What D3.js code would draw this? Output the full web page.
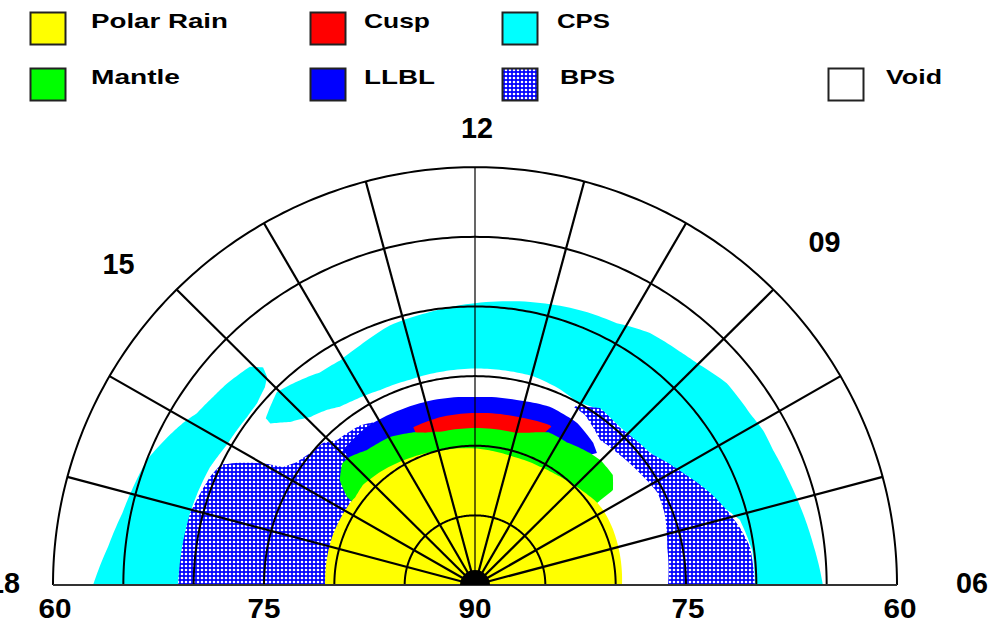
<!DOCTYPE html>
<html>
<head>
<meta charset="utf-8">
<script src="https://cdn.jsdelivr.net/npm/d3@7"></script>
<style>
  html, body { margin: 0; padding: 0; background: #ffffff; }
  svg { display: block; }
</style>
</head>
<body>
<svg id="chart" width="995" height="623"></svg>
<script>
// ---- Grid definition: magnetic local time (hours) and magnetic latitude (deg) ----
const ringLats = [85, 80, 75, 70, 65, 60];
const meridianHours = [6, 7, 8, 9, 10, 11, 12, 13, 14, 15, 16, 17, 18];
const hourLabels = ["06", "09", "12", "15", "18"];
const hourLabelMlt = [6, 9, 12, 15, 18];
const latLabels = ["60", "75", "90", "75", "60"];
const latLabelLat = [60, 75, 90, 75, 60];
const latLabelMlt = [18, 18, 12, 6, 6];

// ---- Legend ----
const legendNames = ["Polar Rain", "Mantle", "Cusp", "LLBL", "CPS", "BPS", "Void"];
const legendFills = ["#ffff00", "#00ff00", "#ff0000", "#0000ff", "#00ffff", "url(#bpsFill)", "#ffffff"];

// ---- Precipitation regions, boundary points as [MLT, latitude] ----
// Central plasma sheet, dusk-side band
const cpsDusk = [
  [18, 62.85], [17.6, 63.77], [17.23, 64.4], [16.93, 64.7], [16.6, 65.0], [16.27, 65.7],
  [16.05, 66.2], [15.87, 66.7], [15.6, 67.0], [15.37, 67.2], [15.04, 67.6], [14.93, 68.3],
  [14.98, 69.0], [15.1, 69.4], [15.33, 69.75], [15.55, 69.8], [15.78, 69.75], [16.0, 69.7],
  [16.17, 69.56], [16.39, 69.35], [16.76, 69.2], [17.05, 69.1], [17.5, 69.07], [18, 68.9]
];
// Central plasma sheet, dayside and dawn band
const cpsDay = [
  [15.41, 70.9], [15.03, 70.24], [14.68, 70.74], [14.39, 71.17], [14.05, 71.24], [13.69, 70.95],
  [13.2, 70.4], [12.62, 70.14], [12, 69.76], [11.27, 69.3], [10.62, 68.9], [10.12, 68.67],
  [9.7, 68.04], [9.27, 67.8], [9.02, 67.58], [8.6, 66.97], [8.15, 66.9], [7.9, 66.7],
  [7.64, 66.7], [7.29, 66.5], [6.91, 66.2], [6.48, 65.8], [6, 65.27],
  [6, 70.1], [6.47, 70.13], [6.93, 70.6], [7.17, 71.5], [7.58, 72.53], [8.12, 73.94],
  [8.65, 74.5], [9.18, 74.68], [9.65, 74.6], [10.07, 75.0], [10.45, 74.7], [10.97, 74.45],
  [11.47, 74.45], [12, 74.45], [12.62, 74.5], [13.16, 74.55], [13.71, 74.46], [14.18, 74.2],
  [14.46, 74.0], [14.66, 73.6], [14.95, 73.18], [15.22, 72.4], [15.43, 71.4]
];
// Boundary plasma sheet, dusk side
const bpsDusk = [
  [18, 68.9], [17.5, 69.0], [17.05, 69.1], [16.75, 69.4], [16.5, 69.63], [16.3, 69.96],
  [16.17, 70.95], [15.99, 72.6], [15.88, 73.94], [15.67, 74.58], [15.4, 74.93], [15.1, 75.15],
  [14.9, 75.7], [14.36, 75.93], [13.9, 76.57], [13.9, 90], [18, 90]
];
// Boundary plasma sheet, dawn side
const bpsDawn = [
  [6, 70.1], [6.53, 70.26], [6.83, 70.74], [7.11, 71.31], [7.44, 72.02], [7.9, 73.16],
  [8.48, 74.36], [9.17, 74.72], [9.67, 74.5], [10.1, 75.4],
  [9.83, 75.5], [9.3, 76.31], [8.8, 76.1], [8.29, 75.79], [7.8, 75.43], [7.4, 75.57],
  [6.75, 76.07], [6, 76.28]
];
// Low-latitude boundary layer
const llbl = [
  [9.17, 77.16], [9.37, 76.78], [9.87, 76.28], [10.5, 76.14], [11.16, 76.39], [12, 76.5],
  [12.84, 76.39], [13.53, 76.35], [14.27, 76.28], [14.93, 76.5], [14.97, 77.2], [12, 90]
];
// Cusp
const cusp = [
  [10.3, 77.4], [10.34, 77.35], [11.07, 77.56], [12, 77.65], [12.78, 77.7], [13.41, 77.85],
  [13.41, 78.24], [12, 90]
];
// Mantle
const mantle = [
  [8.28, 79.51], [8.32, 78.06], [8.59, 77.42], [9.0, 77.35], [9.28, 77.49], [9.83, 77.85],
  [10.3, 77.85], [10.7, 78.4], [11, 78.7], [12, 78.73], [12.8, 78.74], [13.2, 78.5],
  [13.45, 78.2], [13.97, 77.78], [14.57, 77.63], [14.93, 77.2], [15.15, 77.14], [15.46, 77.78],
  [15.68, 78.91], [15.7, 79.4], [12, 90]
];
// Polar rain
const polarRain = [
  [6, 79.55], [7, 79.45], [7.5, 79.41], [8, 79.41], [8.3, 79.5], [8.6, 79.7], [9.07, 79.98],
  [9.6, 80.2], [10.1, 80.33], [10.9, 80.4], [11.5, 80.3], [12, 80.19], [12.9, 80.05],
  [13.8, 79.77], [14.56, 79.48], [15.2, 79.27], [15.56, 79.41], [15.76, 79.34], [16.73, 79.27],
  [18, 79.34], [18, 90], [6, 90]
];

// ---- Layout ----
const cx = 475, cy = 585, outerR = 422, ky = 0.99;
const svg = d3.select("#chart");

const rScale = d3.scaleLinear().domain([90, 60]).range([0, outerR]);
const aScale = d3.scaleLinear().domain([6, 18]).range([Math.PI / 2, -Math.PI / 2]);
function project(mlt, lat) {
  const a = aScale(mlt), rr = rScale(lat);
  return [cx + rr * Math.sin(a), cy - rr * Math.cos(a) * ky];
}

// Walk each boundary segment in polar space so edges follow the grid curvature
function polarPath(points, closed) {
  const out = [];
  const n = points.length;
  const segs = closed ? n : n - 1;
  for (let i = 0; i < segs; i++) {
    const p = points[i], q = points[(i + 1) % n];
    const steps = 10;
    for (let s = 0; s < steps; s++) {
      const t = s / steps;
      out.push(project(p[0] + (q[0] - p[0]) * t, p[1] + (q[1] - p[1]) * t));
    }
  }
  if (!closed) out.push(project(points[n - 1][0], points[n - 1][1]));
  return out;
}
const areaLine = d3.line().curve(d3.curveLinearClosed);
const openLine = d3.line();

// Dot-screen fill for the boundary plasma sheet
const defs = svg.append("defs");
const pat = defs.append("pattern").attr("id", "bpsFill")
  .attr("patternUnits", "userSpaceOnUse").attr("width", 4).attr("height", 4);
pat.append("rect").attr("width", 4).attr("height", 4).attr("fill", "#0000ff");
pat.append("circle").attr("cx", 2).attr("cy", 2).attr("r", 1.3).attr("fill", "#ffffff");

// ---- Regions ----
const regions = [
  { pts: cpsDusk, fill: "#00ffff" },
  { pts: cpsDay, fill: "#00ffff" },
  { pts: bpsDusk, fill: "url(#bpsFill)" },
  { pts: bpsDawn, fill: "url(#bpsFill)" },
  { pts: llbl, fill: "#0000ff" },
  { pts: cusp, fill: "#ff0000" },
  { pts: mantle, fill: "#00ff00" },
  { pts: polarRain, fill: "#ffff00" }
];
svg.append("g").attr("class", "regions")
  .selectAll("path").data(regions).join("path")
  .attr("d", d => areaLine(polarPath(d.pts, true)))
  .attr("fill", d => d.fill)
  .attr("stroke", "none");

// ---- Grid ----
const grid = svg.append("g").attr("class", "grid").attr("fill", "none").attr("stroke", "#000");
const arcMlts = d3.range(6, 18.001, 0.05);
grid.selectAll("path.ring").data(ringLats).join("path")
  .attr("class", "ring")
  .attr("d", lat => openLine(arcMlts.map(m => project(m, lat))))
  .attr("stroke-width", 2);

grid.selectAll("line.meridian").data(meridianHours.filter(h => h !== 6 && h !== 18)).join("line")
  .attr("class", "meridian")
  .attr("x1", h => project(h, 90)[0]).attr("y1", h => project(h, 90)[1])
  .attr("x2", h => project(h, 60)[0]).attr("y2", h => project(h, 60)[1])
  .attr("stroke-width", h => h === 12 ? 1.2 : 2.2);

// Baseline along the 06-18 meridian
grid.append("line")
  .attr("x1", project(18, 60)[0]).attr("y1", cy)
  .attr("x2", project(6, 60)[0]).attr("y2", cy)
  .attr("stroke", "#333").attr("stroke-width", 2);

// Pole marker
svg.append("path")
  .attr("transform", `translate(${cx},${cy})`)
  .attr("d", d3.arc()({ innerRadius: 0, outerRadius: 15, startAngle: -Math.PI / 2, endAngle: Math.PI / 2 }))
  .attr("fill", "#000");

// ---- Axis labels ----
const labelFont = "'Liberation Sans', Arial, sans-serif";
const hourLabelR = 480;
const hourNudge = [[17, -2], [10, -7], [2, 18], [-17, 15], [9, -2]];
svg.append("g").selectAll("text").data(hourLabels).join("text")
  .attr("x", (d, i) => { const a = aScale(hourLabelMlt[i]); return cx + hourLabelR * Math.sin(a) + hourNudge[i][0]; })
  .attr("y", (d, i) => { const a = aScale(hourLabelMlt[i]); return cy - hourLabelR * Math.cos(a) * ky + hourNudge[i][1]; })
  .attr("dy", "0.36em")
  .attr("text-anchor", "middle")
  .attr("font-family", labelFont).attr("font-size", 29).attr("font-weight", "bold")
  .attr("textLength", 32).attr("lengthAdjust", "spacingAndGlyphs")
  .attr("fill", "#000")
  .text(d => d);

svg.append("g").selectAll("text").data(latLabels).join("text")
  .attr("x", (d, i) => project(latLabelMlt[i], latLabelLat[i])[0] + (i === 3 ? 2 : i === 4 ? 3 : i === 0 ? 2 : 0))
  .attr("y", 618)
  .attr("text-anchor", "middle")
  .attr("font-family", labelFont).attr("font-size", 28).attr("font-weight", "bold")
  .attr("textLength", 33).attr("lengthAdjust", "spacingAndGlyphs")
  .attr("fill", "#000")
  .text(d => d);

// ---- Legend ----
const legendBoxX = [30, 30, 310, 310, 502, 502, 828];
const legendBoxY = [12, 68, 12, 68, 12, 68, 68];
const legendTextX = [91, 91, 364, 364, 557, 560, 886];
const legendTextW = [137, 89, 66, 71, 53, 55, 56];
const legend = svg.append("g").attr("class", "legend");
const items = legend.selectAll("g").data(legendNames).join("g");
items.append("rect")
  .attr("x", (d, i) => legendBoxX[i] + 0.5).attr("y", (d, i) => legendBoxY[i] + 0.5)
  .attr("width", 35).attr("height", 32)
  .attr("fill", (d, i) => legendFills[i])
  .attr("stroke", "#222").attr("stroke-width", 2);
items.append("text")
  .attr("x", (d, i) => legendTextX[i])
  .attr("y", (d, i) => legendBoxY[i] + 16)
  .attr("font-family", labelFont).attr("font-size", 21).attr("font-weight", "bold")
  .attr("textLength", (d, i) => legendTextW[i]).attr("lengthAdjust", "spacingAndGlyphs")
  .attr("fill", "#000")
  .text(d => d);
</script>
</body>
</html>
